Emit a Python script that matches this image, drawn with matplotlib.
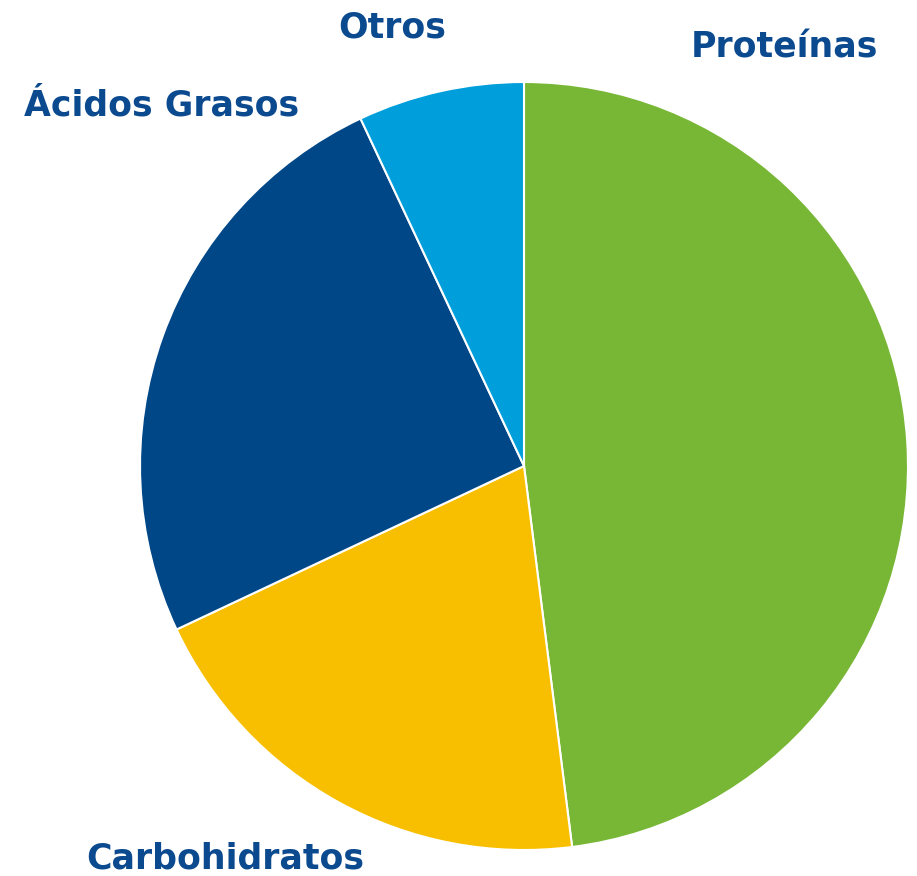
import matplotlib
matplotlib.use("Agg")
import matplotlib.pyplot as plt

categories = ["Proteínas", "Carbohidratos", "Ácidos Grasos", "Otros"]
values = [48, 20, 25, 7]
colors = ["#77B735", "#F7BF00", "#004788", "#009EDB"]

# label positions in pie units (radius = 1)
label_pos = [(0.677, 1.089), (-0.779, -1.021), (-0.945, 0.940), (-0.342, 1.141)]

fig = plt.figure(figsize=(9.17, 8.76), dpi=100)
ax = fig.add_axes([0, 0, 1, 1])

ax.pie(values, colors=colors, startangle=90, counterclock=False,
       radius=1.0, wedgeprops=dict(edgecolor="white", linewidth=1.5))

for name, (x, y) in zip(categories, label_pos):
    ax.text(x, y, name, ha="center", va="center", fontsize=25,
            fontfamily="DejaVu Sans", fontweight="bold", color="#0B4A8F")

ax.set_aspect("auto")
ax.set_xlim(-524 / 384, (917 - 524) / 384)
ax.set_ylim(-(876 - 466) / 384, 466 / 384)
ax.axis("off")

fig.savefig("out.png", dpi=100, facecolor="white")
